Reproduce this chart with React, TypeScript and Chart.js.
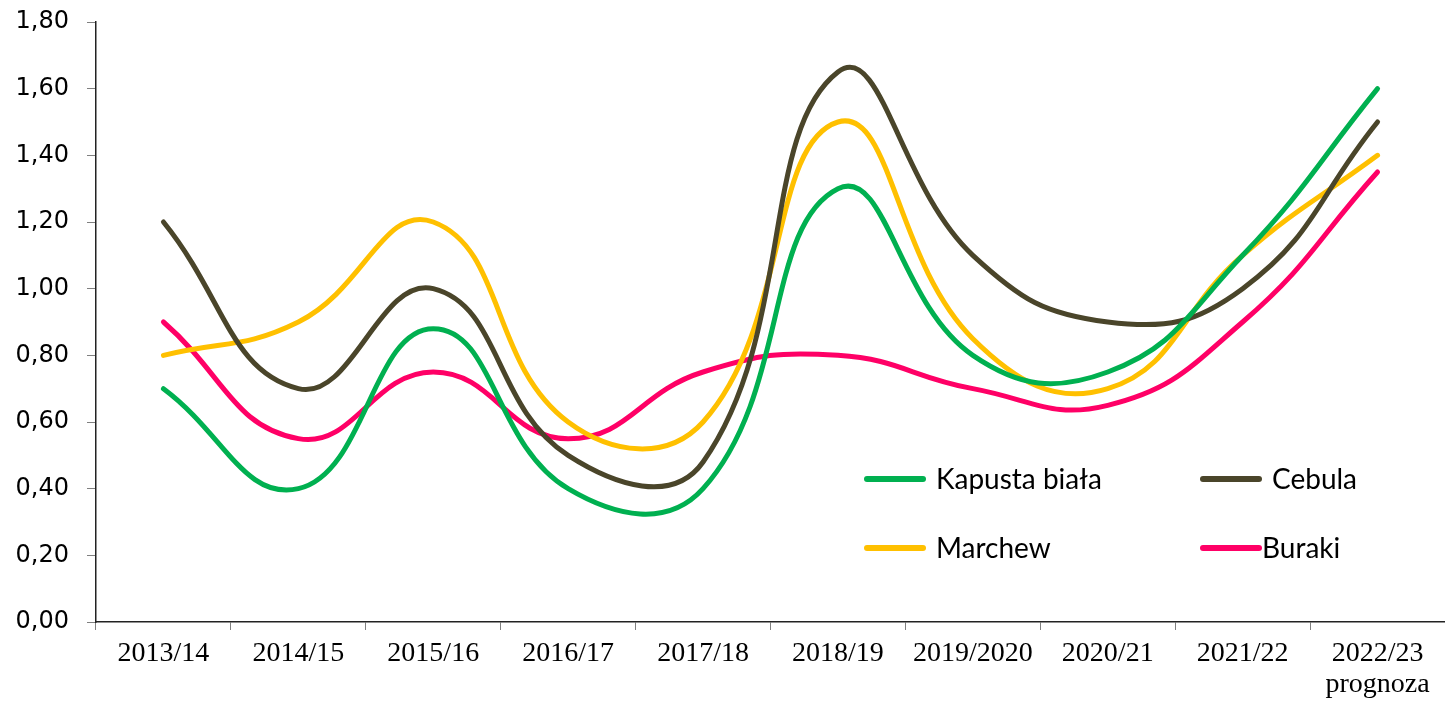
import React, { useEffect, useRef } from "react";
import { Chart, registerables } from "chart.js";

Chart.register(...registerables);

const categories: (string | string[])[] = [
  "2013/14", "2014/15", "2015/16", "2016/17", "2017/18",
  "2018/19", "2019/2020", "2020/21", "2021/22", ["2022/23", "prognoza"],
];

const kapusta = [0.70, 0.40, 0.88, 0.40, 0.40, 1.30, 0.80, 0.75, 1.10, 1.60];
const cebula = [1.20, 0.70, 1.00, 0.50, 0.48, 1.65, 1.10, 0.90, 1.00, 1.50];
const marchew = [0.80, 0.90, 1.20, 0.60, 0.60, 1.50, 0.85, 0.70, 1.10, 1.40];
const buraki = [0.90, 0.55, 0.75, 0.55, 0.75, 0.80, 0.70, 0.65, 0.90, 1.35];

const seriesNames = ["Kapusta biała", "Cebula", "Marchew", "Buraki"];
const seriesColors = ["#00B050", "#4A452A", "#FFC000", "#FF0066"];

const legendPlugin = {
  id: "customLegend",
  afterDraw(chart: any) {
    const ctx = chart.ctx;
    const items = [
      { i: 0, lx: 867, ty: 479, tx: 936 },
      { i: 1, lx: 1203, ty: 479, tx: 1272 },
      { i: 2, lx: 867, ty: 548, tx: 936 },
      { i: 3, lx: 1203, ty: 548, tx: 1262 },
    ];
    ctx.save();
    items.forEach((it) => {
      ctx.strokeStyle = seriesColors[it.i];
      ctx.lineWidth = 6;
      ctx.lineCap = "round";
      ctx.beginPath();
      ctx.moveTo(it.lx, it.ty);
      ctx.lineTo(it.lx + 56, it.ty);
      ctx.stroke();
      ctx.fillStyle = "#000";
      ctx.font = "28px Lato";
      ctx.textBaseline = "middle";
      ctx.textAlign = "left";
      ctx.fillText(seriesNames[it.i], it.tx, it.ty + 1);
    });
    ctx.restore();
  },
};

export default function App() {
  const ref = useRef<HTMLCanvasElement | null>(null);
  useEffect(() => {
    document.body.style.margin = "0";
    const values = [kapusta, cebula, marchew, buraki];
    const chart = new Chart(ref.current as HTMLCanvasElement, {
      type: "line",
      data: {
        labels: categories,
        datasets: values.map((v, i) => ({
          label: seriesNames[i],
          data: v,
          borderColor: seriesColors[i],
          backgroundColor: seriesColors[i],
          borderWidth: 5,
          borderCapStyle: "round" as const,
          pointRadius: 0,
          tension: 0.45,
          fill: false,
        })),
      },
      options: {
        animation: false,
        responsive: false,
        maintainAspectRatio: false,
        layout: { padding: { top: 22, right: -6, left: 0, bottom: 0 } },
        plugins: {
          legend: { display: false },
          tooltip: { enabled: false },
        },
        scales: {
          x: {
            type: "category",
            offset: true,
            grid: {
              display: true,
              drawOnChartArea: false,
              tickLength: 8,
              color: "#808080",
              offset: true,
            },
            border: { color: "#222", width: 1.5 },
            ticks: {
              color: "#000",
              font: { family: "Liberation Serif", size: 28, lineHeight: 1.1 },
              padding: 8,
              maxRotation: 0,
              autoSkip: false,
            },
            afterFit(scale: any) {
              scale.height = 83;
            },
          },
          y: {
            min: 0,
            max: 1.8,
            grid: {
              display: true,
              drawOnChartArea: false,
              tickLength: 9,
              color: "#808080",
            },
            border: { color: "#222", width: 1.5 },
            ticks: {
              stepSize: 0.2,
              color: "#000",
              font: { family: "DejaVu Sans", size: 24 },
              padding: 18,
              callback: (v: any) => Number(v).toFixed(2).replace(".", ","),
            },
            afterFit(scale: any) {
              scale.width = 96;
              scale.paddingTop = 0;
              scale.paddingBottom = 0;
            },
          },
        },
      },
      plugins: [legendPlugin],
    });
    return () => chart.destroy();
  }, []);
  return (
    <div style={{ width: 1445, height: 705 }}>
      <canvas ref={ref} width={1445} height={705} style={{ display: "block" }} />
    </div>
  );
}
